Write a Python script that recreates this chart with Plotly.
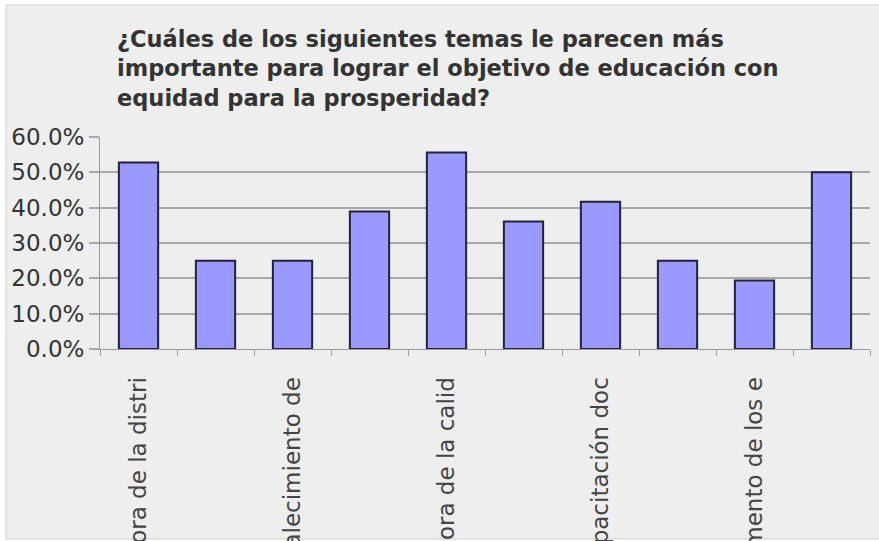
import plotly.graph_objects as go

categories = [
    "Mejora de la distri", "Tema 2", "Fortalecimiento de", "Tema 4",
    "Mejora de la calid", "Tema 6", "Capacitación doc", "Tema 8",
    "Aumento de los e", "Tema 10",
]
tick_labels = [
    "Mejora de la distri", "", "Fortalecimiento de", "",
    "Mejora de la calid", "", "Capacitación doc", "",
    "Aumento de los e", "",
]
values = [0.528, 0.25, 0.25, 0.389, 0.556, 0.361, 0.417, 0.25, 0.194, 0.50]
y_ticks = [0.0, 0.1, 0.2, 0.3, 0.4, 0.5, 0.6]

title_text = ("¿Cuáles de los siguientes temas le parecen más<br>"
              "importante para lograr el objetivo de educación con<br>"
              "equidad para la prosperidad?")

W, H = 879, 541
ml, mr, mt, mb = 100, 9, 137, 192
pw, ph = W - ml - mr, H - mt - mb

fig = go.Figure(go.Bar(
    x=categories, y=values,
    marker=dict(color="#9999ff", line=dict(color="#222238", width=2)),
))

def px_x(p):
    return (p - ml) / pw

def px_y(p):
    return (H - mb - p) / ph

fig.add_shape(type="rect", xref="paper", yref="paper",
              x0=px_x(6), x1=px_x(890), y0=px_y(539), y1=px_y(5),
              fillcolor="#eeeeee", line=dict(color="#cfcfcf", width=1),
              layer="below")

fig.update_layout(
    width=W, height=H,
    margin=dict(l=ml, r=mr, t=mt, b=mb, autoexpand=False),
    paper_bgcolor="#ffffff",
    plot_bgcolor="rgba(0,0,0,0)",
    bargap=0.49,
    showlegend=False,
    font=dict(family="DejaVu Sans", color="#333333"),
    title=dict(text=title_text, x=117 / W, xanchor="left",
               y=1 - 47 / H, yanchor="top", yref="container",
               font=dict(family="DejaVu Sans", size=22.5, color="#333333",
                         weight="bold")),
    xaxis=dict(
        type="category",
        tickmode="array", tickvals=categories, ticktext=tick_labels,
        tickangle=-90, tickson="boundaries",
        ticks="outside", ticklen=6, tickcolor="#9a9a9a", tickwidth=1,
        showline=True, linecolor="#9a9a9a", linewidth=1,
        showgrid=False, automargin=False,
        ticklabelstandoff=18,
        tickfont=dict(family="DejaVu Sans", size=23, color="#444444"),
    ),
    yaxis=dict(
        range=[0, 0.6], tickmode="array", tickvals=y_ticks,
        tickformat=".1%",
        ticks="outside", ticklen=10, tickcolor="#a8a8a8", tickwidth=1.5,
        showline=True, linecolor="#9a9a9a", linewidth=1,
        showgrid=True, gridcolor="#a8a8a8", gridwidth=1.5,
        zeroline=False, automargin=False,
        tickfont=dict(family="DejaVu Sans", size=23, color="#333333"),
    ),
)

fig.write_html("out.html", config={"displayModeBar": False},
               post_script="document.body.style.margin='0px';")
